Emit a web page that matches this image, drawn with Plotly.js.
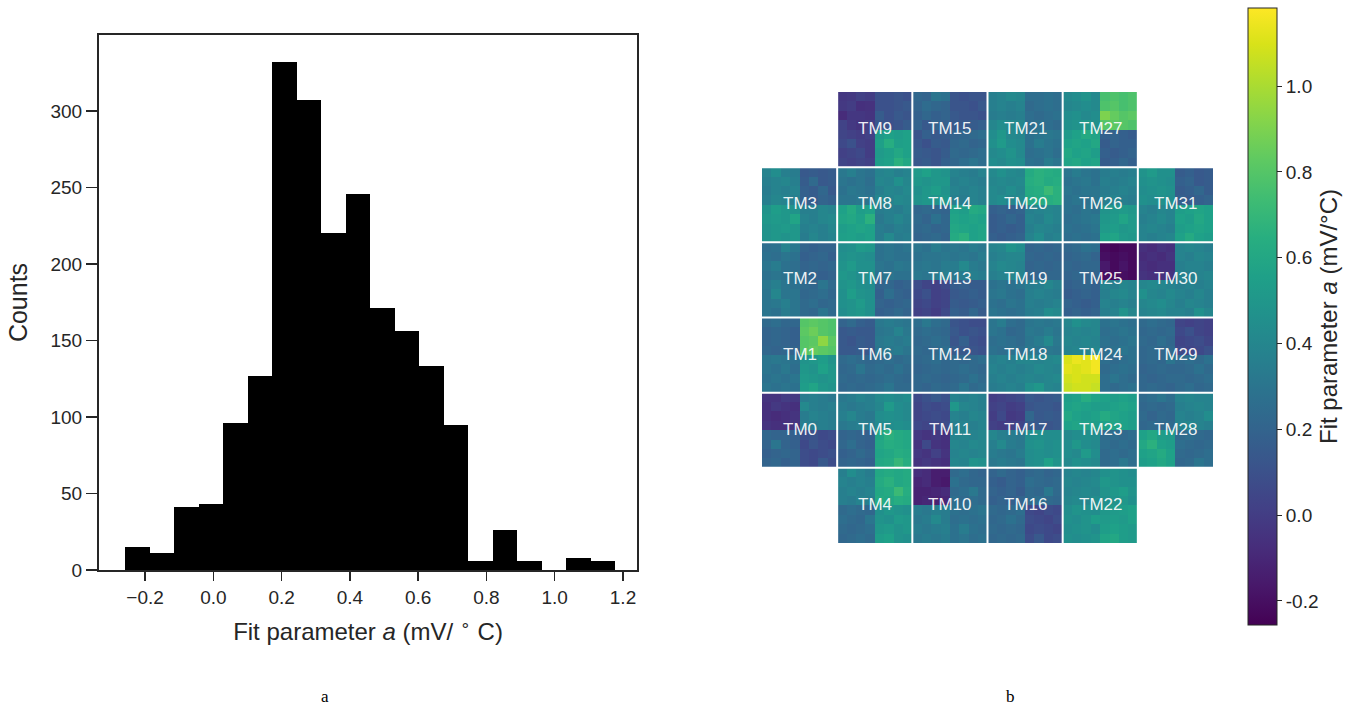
<!DOCTYPE html>
<html>
<head>
<meta charset="utf-8">
<script src="https://cdn.plot.ly/plotly-3.0.1.min.js"></script>
<style>
  html, body { margin: 0; padding: 0; background: #ffffff; }
  #chart { width: 1365px; height: 707px; }
</style>
</head>
<body>
<div id="chart"></div>
<script>
// ---- Panel a: histogram of the fit parameter a (mV/°C) ----
const histLo = -0.258;      // left edge of the first bin
const histHi = 1.178;       // right edge of the last bin
const counts = [15, 11, 41, 43, 96, 127, 332, 307, 220, 246, 171, 156, 133, 95, 6, 26, 6, 0, 8, 6];
const histTicks = [-0.2, 0.0, 0.2, 0.4, 0.6, 0.8, 1.0, 1.2];
const countTicks = [0, 50, 100, 150, 200, 250, 300];

// ---- Panel b: per-pixel fit parameter for each target module (8x8 pixels, rows top to bottom) ----
const TM0 = [
  [-0.04,-0.04,0.00,-0.02, 0.34,0.36,0.34,0.32],
  [-0.06,-0.02,-0.04,-0.06, 0.42,0.36,0.34,0.36],
  [-0.06,-0.08,-0.06,-0.04, 0.34,0.38,0.36,0.34],
  [-0.04,-0.06,-0.06,-0.04, 0.36,0.34,0.36,0.34],
  [0.22,0.20,0.20,0.18, 0.08,0.10,0.06,0.08],
  [0.20,0.30,0.20,0.18, 0.06,0.12,0.08,0.06],
  [0.18,0.20,0.22,0.20, 0.08,0.06,0.08,0.10],
  [0.20,0.22,0.18,0.20, 0.08,0.06,0.14,0.08]];
const TM1 = [
  [0.24,0.26,0.22,0.22, 0.80,0.82,0.80,0.78],
  [0.20,0.22,0.20,0.18, 0.82,0.86,0.80,0.78],
  [0.20,0.22,0.20,0.18, 0.80,0.82,0.94,0.82],
  [0.22,0.20,0.22,0.20, 0.80,0.84,0.82,0.80],
  [0.30,0.32,0.30,0.28, 0.48,0.50,0.54,0.48],
  [0.30,0.28,0.32,0.26, 0.50,0.48,0.56,0.50],
  [0.28,0.30,0.28,0.30, 0.52,0.50,0.48,0.50],
  [0.30,0.28,0.30,0.28, 0.54,0.58,0.50,0.48]];
const TM2 = [
  [0.26,0.28,0.38,0.32, 0.20,0.18,0.20,0.20],
  [0.28,0.26,0.30,0.28, 0.18,0.20,0.22,0.18],
  [0.30,0.34,0.28,0.26, 0.20,0.22,0.20,0.22],
  [0.28,0.30,0.28,0.30, 0.22,0.20,0.18,0.20],
  [0.32,0.36,0.30,0.28, 0.24,0.22,0.30,0.24],
  [0.30,0.40,0.30,0.30, 0.22,0.24,0.26,0.22],
  [0.30,0.32,0.36,0.30, 0.24,0.26,0.22,0.24],
  [0.30,0.28,0.34,0.30, 0.24,0.22,0.30,0.24]];
const TM3 = [
  [0.38,0.44,0.36,0.34, 0.14,0.16,0.14,0.16],
  [0.36,0.38,0.40,0.36, 0.16,0.24,0.14,0.16],
  [0.34,0.38,0.36,0.38, 0.18,0.16,0.22,0.14],
  [0.36,0.40,0.38,0.36, 0.18,0.16,0.20,0.18],
  [0.48,0.54,0.50,0.48, 0.36,0.36,0.40,0.38],
  [0.50,0.52,0.50,0.58, 0.38,0.36,0.40,0.42],
  [0.48,0.50,0.52,0.50, 0.36,0.38,0.36,0.40],
  [0.48,0.50,0.48,0.50, 0.34,0.40,0.36,0.38]];
const TM4 = [
  [0.36,0.44,0.38,0.34, 0.60,0.62,0.60,0.62],
  [0.38,0.36,0.38,0.36, 0.62,0.66,0.60,0.62],
  [0.36,0.38,0.36,0.38, 0.60,0.62,0.72,0.64],
  [0.36,0.34,0.38,0.36, 0.62,0.60,0.64,0.62],
  [0.24,0.26,0.24,0.22, 0.46,0.50,0.48,0.46],
  [0.26,0.24,0.22,0.30, 0.48,0.46,0.52,0.50],
  [0.24,0.22,0.24,0.26, 0.50,0.52,0.48,0.50],
  [0.22,0.24,0.26,0.24, 0.54,0.56,0.48,0.46]];
const TM5 = [
  [0.32,0.34,0.38,0.36, 0.42,0.44,0.42,0.44],
  [0.34,0.32,0.34,0.36, 0.40,0.52,0.44,0.42],
  [0.36,0.40,0.34,0.32, 0.44,0.46,0.44,0.42],
  [0.32,0.34,0.36,0.34, 0.42,0.44,0.46,0.44],
  [0.20,0.22,0.20,0.18, 0.58,0.66,0.62,0.60],
  [0.22,0.26,0.20,0.18, 0.60,0.64,0.62,0.60],
  [0.18,0.20,0.24,0.20, 0.58,0.60,0.64,0.62],
  [0.20,0.22,0.20,0.18, 0.60,0.62,0.70,0.64]];
const TM6 = [
  [0.20,0.24,0.18,0.16, 0.32,0.34,0.32,0.30],
  [0.14,0.16,0.14,0.14, 0.30,0.32,0.38,0.32],
  [0.14,0.12,0.16,0.14, 0.32,0.34,0.32,0.34],
  [0.14,0.14,0.16,0.14, 0.30,0.32,0.34,0.30],
  [0.24,0.26,0.24,0.22, 0.24,0.26,0.24,0.26],
  [0.22,0.24,0.30,0.24, 0.26,0.24,0.28,0.24],
  [0.24,0.22,0.24,0.22, 0.24,0.26,0.24,0.22],
  [0.22,0.24,0.22,0.24, 0.26,0.30,0.24,0.24]];
const TM7 = [
  [0.44,0.46,0.52,0.50, 0.28,0.30,0.28,0.30],
  [0.46,0.48,0.46,0.44, 0.28,0.30,0.28,0.28],
  [0.48,0.52,0.46,0.46, 0.30,0.28,0.32,0.30],
  [0.50,0.48,0.44,0.46, 0.28,0.30,0.28,0.28],
  [0.48,0.50,0.46,0.44, 0.20,0.22,0.18,0.20],
  [0.46,0.54,0.48,0.46, 0.18,0.26,0.20,0.18],
  [0.46,0.48,0.52,0.46, 0.20,0.18,0.20,0.22],
  [0.44,0.48,0.50,0.46, 0.18,0.20,0.24,0.20]];
const TM8 = [
  [0.32,0.36,0.30,0.28, 0.38,0.40,0.36,0.38],
  [0.30,0.28,0.30,0.26, 0.40,0.38,0.46,0.40],
  [0.28,0.32,0.30,0.28, 0.36,0.40,0.38,0.42],
  [0.30,0.30,0.32,0.30, 0.40,0.38,0.42,0.40],
  [0.56,0.62,0.54,0.56, 0.34,0.36,0.34,0.38],
  [0.58,0.60,0.56,0.66, 0.32,0.36,0.40,0.36],
  [0.54,0.56,0.58,0.56, 0.34,0.32,0.36,0.34],
  [0.55,0.56,0.54,0.56, 0.34,0.42,0.34,0.36]];
const TM9 = [
  [-0.03,-0.02,0.02,0.00, 0.10,0.10,0.12,0.10],
  [-0.02,0.00,-0.06,-0.05, 0.10,0.10,0.12,0.14],
  [-0.08,-0.03,-0.03,-0.04, 0.16,0.10,0.14,0.12],
  [0.03,-0.02,-0.04,0.00, 0.12,0.10,0.12,0.16],
  [0.04,0.02,0.00,0.02, 0.52,0.56,0.54,0.56],
  [0.06,0.10,0.02,0.00, 0.55,0.64,0.55,0.56],
  [0.02,0.04,0.06,0.00, 0.52,0.55,0.60,0.56],
  [0.04,0.02,0.04,0.02, 0.54,0.56,0.66,0.60]];
const TM10 = [
  [-0.06,-0.08,-0.14,-0.14, 0.24,0.26,0.22,0.20],
  [-0.10,-0.08,-0.14,-0.16, 0.28,0.24,0.22,0.22],
  [-0.12,-0.12,-0.10,-0.08, 0.24,0.26,0.32,0.24],
  [-0.12,-0.10,-0.12,-0.10, 0.26,0.24,0.26,0.24],
  [0.34,0.32,0.36,0.34, 0.28,0.26,0.28,0.30],
  [0.32,0.34,0.42,0.34, 0.26,0.28,0.26,0.28],
  [0.34,0.32,0.34,0.36, 0.28,0.34,0.28,0.26],
  [0.32,0.34,0.32,0.34, 0.28,0.30,0.26,0.28]];
const TM11 = [
  [0.06,0.10,0.14,0.10, 0.38,0.36,0.38,0.36],
  [0.04,0.08,0.06,0.08, 0.50,0.40,0.38,0.36],
  [0.04,0.06,0.08,0.06, 0.38,0.36,0.40,0.38],
  [0.06,0.04,0.06,0.08, 0.36,0.38,0.36,0.38],
  [-0.02,-0.04,-0.02,-0.06, 0.38,0.40,0.38,0.40],
  [-0.04,0.06,-0.04,-0.06, 0.40,0.38,0.42,0.40],
  [-0.02,-0.04,0.02,-0.04, 0.38,0.40,0.38,0.40],
  [-0.04,-0.02,-0.04,-0.06, 0.40,0.38,0.48,0.46]];
const TM12 = [
  [0.26,0.32,0.26,0.24, 0.12,0.10,0.08,0.08],
  [0.24,0.26,0.24,0.22, 0.14,0.10,0.12,0.10],
  [0.22,0.24,0.26,0.24, 0.12,0.18,0.10,0.08],
  [0.24,0.22,0.24,0.26, 0.16,0.14,0.12,0.10],
  [0.22,0.24,0.26,0.22, 0.24,0.22,0.24,0.26],
  [0.20,0.22,0.24,0.22, 0.24,0.26,0.24,0.22],
  [0.22,0.24,0.22,0.20, 0.22,0.24,0.28,0.24],
  [0.22,0.20,0.24,0.22, 0.24,0.30,0.24,0.26]];
const TM13 = [
  [0.30,0.28,0.34,0.30, 0.32,0.30,0.34,0.32],
  [0.28,0.30,0.30,0.32, 0.30,0.32,0.30,0.34],
  [0.30,0.32,0.30,0.34, 0.34,0.42,0.34,0.32],
  [0.32,0.30,0.34,0.36, 0.32,0.34,0.36,0.34],
  [0.08,0.04,0.02,0.06, 0.16,0.18,0.16,0.16],
  [0.06,0.10,0.02,0.04, 0.14,0.16,0.18,0.16],
  [0.04,0.06,0.02,0.04, 0.16,0.14,0.16,0.18],
  [0.02,0.04,0.00,0.06, 0.18,0.16,0.22,0.16]];
const TM14 = [
  [0.52,0.56,0.50,0.48, 0.38,0.36,0.34,0.38],
  [0.50,0.48,0.50,0.50, 0.36,0.38,0.36,0.34],
  [0.46,0.50,0.54,0.48, 0.38,0.36,0.38,0.36],
  [0.48,0.50,0.48,0.50, 0.36,0.34,0.38,0.36],
  [0.22,0.24,0.22,0.20, 0.56,0.54,0.62,0.60],
  [0.24,0.20,0.28,0.22, 0.58,0.56,0.58,0.56],
  [0.22,0.24,0.20,0.22, 0.60,0.58,0.56,0.58],
  [0.20,0.22,0.24,0.20, 0.62,0.66,0.56,0.58]];
const TM15 = [
  [0.22,0.20,0.30,0.28, 0.12,0.10,0.12,0.12],
  [0.20,0.25,0.22,0.20, 0.12,0.12,0.10,0.14],
  [0.18,0.22,0.18,0.20, 0.14,0.12,0.12,0.10],
  [0.20,0.14,0.20,0.18, 0.14,0.14,0.16,0.18],
  [0.12,0.18,0.14,0.16, 0.20,0.22,0.24,0.26],
  [0.14,0.10,0.16,0.14, 0.22,0.24,0.20,0.22],
  [0.16,0.14,0.12,0.16, 0.24,0.22,0.24,0.26],
  [0.14,0.16,0.12,0.18, 0.22,0.26,0.30,0.26]];
const TM16 = [
  [0.20,0.24,0.20,0.18, 0.22,0.24,0.20,0.22],
  [0.18,0.16,0.20,0.18, 0.26,0.24,0.22,0.24],
  [0.20,0.18,0.20,0.16, 0.24,0.22,0.32,0.24],
  [0.18,0.20,0.18,0.20, 0.24,0.26,0.24,0.22],
  [0.24,0.22,0.24,0.26, 0.06,0.04,0.08,0.06],
  [0.22,0.24,0.28,0.24, 0.08,0.06,0.04,0.08],
  [0.24,0.22,0.24,0.22, 0.06,0.08,0.06,0.04],
  [0.22,0.24,0.22,0.24, 0.08,0.14,0.06,0.08]];
const TM17 = [
  [0.00,0.02,0.04,0.06, 0.14,0.12,0.14,0.16],
  [0.02,0.04,0.00,0.02, 0.12,0.14,0.14,0.12],
  [0.00,0.06,-0.02,0.00, 0.22,0.14,0.16,0.14],
  [0.02,0.00,0.02,0.04, 0.16,0.14,0.12,0.14],
  [0.40,0.36,0.34,0.32, 0.44,0.46,0.44,0.44],
  [0.36,0.42,0.34,0.32, 0.46,0.48,0.44,0.46],
  [0.34,0.32,0.30,0.34, 0.44,0.46,0.44,0.46],
  [0.32,0.34,0.32,0.30, 0.44,0.46,0.56,0.48]];
const TM18 = [
  [0.30,0.34,0.26,0.24, 0.30,0.32,0.30,0.32],
  [0.30,0.28,0.22,0.24, 0.32,0.30,0.34,0.30],
  [0.26,0.28,0.26,0.24, 0.30,0.34,0.42,0.32],
  [0.28,0.26,0.28,0.26, 0.32,0.30,0.32,0.30],
  [0.36,0.38,0.36,0.40, 0.40,0.38,0.40,0.42],
  [0.38,0.36,0.38,0.36, 0.38,0.42,0.40,0.38],
  [0.36,0.38,0.36,0.38, 0.40,0.38,0.40,0.42],
  [0.34,0.36,0.38,0.36, 0.46,0.50,0.40,0.38]];
const TM19 = [
  [0.38,0.40,0.48,0.44, 0.20,0.22,0.20,0.22],
  [0.36,0.38,0.40,0.40, 0.22,0.20,0.22,0.20],
  [0.38,0.42,0.40,0.38, 0.20,0.22,0.20,0.22],
  [0.36,0.38,0.40,0.38, 0.22,0.20,0.22,0.22],
  [0.28,0.30,0.28,0.30, 0.34,0.36,0.40,0.36],
  [0.30,0.32,0.28,0.26, 0.36,0.38,0.36,0.34],
  [0.28,0.26,0.30,0.28, 0.36,0.34,0.36,0.38],
  [0.30,0.28,0.26,0.28, 0.34,0.36,0.44,0.42]];
const TM20 = [
  [0.42,0.46,0.42,0.40, 0.62,0.66,0.64,0.62],
  [0.40,0.42,0.40,0.42, 0.64,0.66,0.62,0.64],
  [0.42,0.40,0.44,0.40, 0.62,0.64,0.72,0.66],
  [0.42,0.44,0.40,0.42, 0.60,0.62,0.64,0.66],
  [0.18,0.20,0.18,0.20, 0.36,0.38,0.40,0.38],
  [0.16,0.18,0.22,0.18, 0.38,0.36,0.42,0.38],
  [0.16,0.18,0.16,0.18, 0.36,0.40,0.38,0.36],
  [0.18,0.16,0.18,0.20, 0.38,0.44,0.36,0.38]];
const TM21 = [
  [0.36,0.38,0.42,0.40, 0.26,0.26,0.28,0.26],
  [0.36,0.38,0.36,0.38, 0.24,0.26,0.28,0.26],
  [0.34,0.36,0.34,0.36, 0.26,0.24,0.26,0.28],
  [0.40,0.44,0.42,0.40, 0.26,0.28,0.26,0.24],
  [0.44,0.50,0.42,0.40, 0.28,0.30,0.32,0.30],
  [0.46,0.52,0.44,0.42, 0.28,0.34,0.30,0.28],
  [0.42,0.44,0.48,0.42, 0.26,0.28,0.30,0.26],
  [0.44,0.42,0.46,0.44, 0.28,0.26,0.34,0.30]];
const TM22 = [
  [0.38,0.40,0.38,0.40, 0.46,0.48,0.46,0.44],
  [0.40,0.38,0.40,0.42, 0.50,0.48,0.46,0.46],
  [0.38,0.40,0.42,0.40, 0.48,0.50,0.54,0.48],
  [0.40,0.42,0.40,0.44, 0.46,0.48,0.50,0.46],
  [0.44,0.48,0.46,0.44, 0.50,0.52,0.54,0.56],
  [0.46,0.44,0.48,0.54, 0.52,0.54,0.52,0.56],
  [0.44,0.46,0.48,0.44, 0.54,0.56,0.54,0.52],
  [0.46,0.44,0.46,0.48, 0.58,0.60,0.54,0.52]];
const TM23 = [
  [0.54,0.56,0.64,0.58, 0.56,0.54,0.56,0.54],
  [0.56,0.58,0.56,0.54, 0.54,0.56,0.58,0.56],
  [0.60,0.56,0.54,0.56, 0.62,0.58,0.56,0.54],
  [0.56,0.58,0.56,0.54, 0.56,0.58,0.56,0.54],
  [0.42,0.44,0.46,0.44, 0.24,0.26,0.24,0.26],
  [0.44,0.50,0.44,0.42, 0.26,0.24,0.26,0.24],
  [0.44,0.42,0.52,0.44, 0.24,0.26,0.24,0.26],
  [0.42,0.46,0.44,0.42, 0.24,0.26,0.32,0.26]];
const TM24 = [
  [0.40,0.46,0.42,0.40, 0.28,0.30,0.28,0.26],
  [0.38,0.40,0.38,0.40, 0.26,0.28,0.30,0.28],
  [0.40,0.38,0.40,0.38, 0.28,0.26,0.28,0.30],
  [0.38,0.40,0.38,0.40, 0.26,0.28,0.30,0.28],
  [1.10,1.14,1.12,1.16, 0.26,0.24,0.26,0.28],
  [1.12,1.10,1.12,1.16, 0.24,0.26,0.28,0.26],
  [1.08,1.10,1.08,1.08, 0.26,0.30,0.26,0.24],
  [1.06,1.08,1.08,1.06, 0.26,0.24,0.26,0.28]];
const TM25 = [
  [0.22,0.24,0.28,0.26, -0.22,-0.24,-0.22,-0.22],
  [0.20,0.22,0.24,0.20, -0.20,-0.22,-0.20,-0.22],
  [0.22,0.20,0.22,0.22, -0.16,-0.22,-0.18,-0.22],
  [0.20,0.22,0.20,0.20, -0.20,-0.22,-0.20,-0.22],
  [0.18,0.20,0.22,0.18, 0.38,0.36,0.40,0.38],
  [0.16,0.18,0.20,0.18, 0.36,0.40,0.42,0.38],
  [0.20,0.18,0.16,0.18, 0.38,0.36,0.38,0.36],
  [0.18,0.20,0.18,0.20, 0.36,0.38,0.48,0.40]];
const TM26 = [
  [0.30,0.34,0.30,0.28, 0.34,0.36,0.34,0.36],
  [0.28,0.30,0.32,0.28, 0.36,0.34,0.36,0.38],
  [0.30,0.28,0.30,0.30, 0.34,0.36,0.38,0.36],
  [0.28,0.30,0.28,0.30, 0.36,0.38,0.36,0.34],
  [0.28,0.26,0.30,0.28, 0.48,0.50,0.52,0.50],
  [0.26,0.28,0.30,0.32, 0.50,0.52,0.58,0.52],
  [0.28,0.26,0.28,0.30, 0.52,0.54,0.50,0.52],
  [0.26,0.28,0.26,0.28, 0.56,0.58,0.52,0.50]];
const TM27 = [
  [0.42,0.44,0.48,0.42, 0.76,0.78,0.76,0.78],
  [0.40,0.42,0.44,0.42, 0.78,0.80,0.76,0.78],
  [0.44,0.46,0.42,0.44, 0.90,0.84,0.80,0.82],
  [0.46,0.48,0.50,0.46, 0.80,0.82,0.80,0.78],
  [0.52,0.56,0.62,0.58, 0.18,0.20,0.18,0.16],
  [0.56,0.58,0.56,0.60, 0.16,0.20,0.18,0.18],
  [0.60,0.56,0.58,0.54, 0.18,0.16,0.18,0.20],
  [0.58,0.60,0.56,0.58, 0.16,0.18,0.22,0.18]];
const TM28 = [
  [0.24,0.26,0.30,0.26, 0.38,0.40,0.38,0.38],
  [0.22,0.24,0.22,0.24, 0.36,0.38,0.40,0.38],
  [0.24,0.20,0.24,0.22, 0.38,0.36,0.38,0.44],
  [0.22,0.24,0.22,0.24, 0.38,0.40,0.38,0.36],
  [0.56,0.60,0.54,0.52, 0.24,0.26,0.24,0.22],
  [0.60,0.66,0.56,0.54, 0.26,0.24,0.22,0.24],
  [0.56,0.58,0.62,0.56, 0.24,0.22,0.24,0.26],
  [0.54,0.56,0.60,0.56, 0.22,0.24,0.30,0.26]];
const TM29 = [
  [0.24,0.26,0.24,0.22, 0.04,0.02,0.04,0.02],
  [0.22,0.24,0.22,0.24, 0.06,0.10,0.04,0.02],
  [0.24,0.22,0.26,0.22, 0.04,0.06,0.08,0.04],
  [0.22,0.24,0.22,0.24, 0.06,0.04,0.06,0.10],
  [0.22,0.24,0.22,0.30, 0.24,0.26,0.24,0.28],
  [0.20,0.22,0.24,0.22, 0.22,0.24,0.28,0.24],
  [0.22,0.20,0.22,0.24, 0.24,0.22,0.24,0.26],
  [0.22,0.24,0.22,0.20, 0.24,0.26,0.22,0.24]];
const TM30 = [
  [-0.06,-0.08,-0.04,-0.06, 0.38,0.40,0.38,0.36],
  [-0.08,-0.06,-0.08,-0.04, 0.38,0.36,0.40,0.38],
  [-0.06,-0.08,-0.06,-0.06, 0.36,0.38,0.38,0.36],
  [-0.04,-0.06,-0.06,-0.04, 0.38,0.36,0.38,0.40],
  [0.40,0.42,0.40,0.38, 0.36,0.38,0.36,0.38],
  [0.46,0.40,0.38,0.42, 0.38,0.36,0.40,0.36],
  [0.40,0.42,0.44,0.40, 0.36,0.40,0.38,0.36],
  [0.38,0.40,0.42,0.38, 0.38,0.36,0.46,0.40]];
const TM31 = [
  [0.48,0.52,0.46,0.46, 0.16,0.18,0.14,0.16],
  [0.46,0.48,0.46,0.44, 0.18,0.20,0.14,0.16],
  [0.44,0.46,0.48,0.46, 0.16,0.18,0.22,0.16],
  [0.46,0.44,0.46,0.44, 0.18,0.16,0.18,0.20],
  [0.38,0.36,0.40,0.38, 0.54,0.56,0.58,0.56],
  [0.36,0.38,0.42,0.38, 0.56,0.54,0.60,0.56],
  [0.38,0.40,0.38,0.36, 0.54,0.56,0.58,0.56],
  [0.38,0.36,0.38,0.40, 0.56,0.62,0.56,0.54]];

// Module numbers as placed on the camera face (rows top to bottom, null = no module)
const moduleLayout = [
  [null, 9, 15, 21, 27, null],
  [3, 8, 14, 20, 26, 31],
  [2, 7, 13, 19, 25, 30],
  [1, 6, 12, 18, 24, 29],
  [0, 5, 11, 17, 23, 28],
  [null, 4, 10, 16, 22, null]];
const modules = [TM0, TM1, TM2, TM3, TM4, TM5, TM6, TM7, TM8, TM9, TM10, TM11, TM12, TM13, TM14, TM15,
                 TM16, TM17, TM18, TM19, TM20, TM21, TM22, TM23, TM24, TM25, TM26, TM27, TM28, TM29, TM30, TM31];
const cbTicks = [-0.2, 0.0, 0.2, 0.4, 0.6, 0.8, 1.0];

// ---- build the histogram bars ----
const nBins = counts.length;
const binW = (histHi - histLo) / nBins;
const binCenters = counts.map((_, i) => histLo + binW * (i + 0.5));

// ---- assemble the 48x48 camera image ----
const N = 8;
const side = moduleLayout.length * N;
const z = [];
for (let r = 0; r < side; r++) z.push(new Array(side).fill(null));
const labels = [];
moduleLayout.forEach((row, mr) => {
  row.forEach((tm, mc) => {
    if (tm === null) return;
    const px = modules[tm];
    for (let i = 0; i < N; i++)
      for (let j = 0; j < N; j++)
        z[mr * N + i][mc * N + j] = px[i][j];
    labels.push({
      xref: 'x2', yref: 'y2', x: mc * N + 3.5, y: mr * N + 3.4,
      xanchor: 'center', yanchor: 'middle',
      text: 'TM' + tm, showarrow: false,
      font: { family: 'Liberation Sans, Arial, sans-serif', size: 17, color: 'rgba(255,255,255,0.93)' }
    });
  });
});

// white seams between modules
const seams = [];
for (let k = 1; k < moduleLayout.length; k++) {
  const p = k * N - 0.5;
  seams.push({ type: 'line', xref: 'x2', yref: 'y2', x0: p, x1: p, y0: -0.5, y1: side - 0.5,
               line: { color: '#ffffff', width: 2 } });
  seams.push({ type: 'line', xref: 'x2', yref: 'y2', x0: -0.5, x1: side - 0.5, y0: p, y1: p,
               line: { color: '#ffffff', width: 2 } });
}

const ink = '#262626';
const font = 'Liberation Sans, Arial, Helvetica, sans-serif';

const traces = [
  {
    type: 'bar', x: binCenters, y: counts, width: binW,
    marker: { color: '#000000', line: { width: 0 } },
    xaxis: 'x', yaxis: 'y', hoverinfo: 'x+y', showlegend: false
  },
  {
    type: 'heatmap', z: z, xaxis: 'x2', yaxis: 'y2',
    colorscale: 'Viridis', zmin: -0.256, zmax: 1.182,
    hoverongaps: false, showscale: true,
    colorbar: {
      x: 1248 / 1365, xanchor: 'left', xref: 'paper', xpad: 0, ypad: 0,
      y: (707 - 316.5) / 707, yanchor: 'middle',
      len: 617, lenmode: 'pixels', thickness: 29, thicknessmode: 'pixels',
      outlinewidth: 1, outlinecolor: ink,
      ticks: 'outside', ticklen: 5, tickwidth: 1, tickcolor: ink,
      tickvals: cbTicks, ticktext: cbTicks.map(v => v.toFixed(1)),
      tickfont: { family: font, size: 19, color: ink },
      title: { text: 'Fit parameter <i>a</i> (mV/°C)', side: 'right',
               font: { family: font, size: 24, color: ink } }
    }
  }
];

const layout = {
  width: 1365, height: 707,
  margin: { l: 0, r: 0, t: 0, b: 0 },
  paper_bgcolor: '#ffffff', plot_bgcolor: '#ffffff',
  showlegend: false,
  bargap: 0,
  xaxis: {
    domain: [99 / 1365, 637 / 1365], range: [-0.335, 1.241],
    tickvals: histTicks, ticktext: histTicks.map(v => (v < 0 ? '\u2212' : '') + Math.abs(v).toFixed(1)),
    ticks: 'outside', ticklen: 9, tickwidth: 1.5, tickcolor: ink,
    tickfont: { family: font, size: 19, color: ink },
    showline: true, linewidth: 2, linecolor: ink, mirror: true,
    showgrid: false, zeroline: false,
    title: { text: 'Fit parameter <i>a</i> (mV/ <sup>∘</sup> C)', standoff: 16,
             font: { family: font, size: 24, color: ink } }
  },
  yaxis: {
    domain: [(707 - 570) / 707, (707 - 35) / 707], range: [0, 349.6],
    tickvals: countTicks,
    ticks: 'outside', ticklen: 11, tickwidth: 1.5, tickcolor: ink,
    tickfont: { family: font, size: 19, color: ink },
    showline: true, linewidth: 2, linecolor: ink, mirror: true,
    showgrid: false, zeroline: false,
    title: { text: 'Counts', standoff: 16, font: { family: font, size: 25, color: ink } }
  },
  xaxis2: {
    domain: [762 / 1365, 1213 / 1365], range: [-0.5, side - 0.5],
    visible: false, showgrid: false, zeroline: false, anchor: 'y2'
  },
  yaxis2: {
    domain: [(707 - 543) / 707, (707 - 92) / 707], range: [side - 0.5, -0.5],
    visible: false, showgrid: false, zeroline: false, anchor: 'x2'
  },
  shapes: seams,
  annotations: labels.concat([
    { xref: 'paper', yref: 'paper', x: 325 / 1365, y: (707 - 696) / 707, xanchor: 'center', yanchor: 'middle',
      text: 'a', showarrow: false,
      font: { family: 'Liberation Serif, Times New Roman, serif', size: 17, color: '#000000' } },
    { xref: 'paper', yref: 'paper', x: 1010 / 1365, y: (707 - 696) / 707, xanchor: 'center', yanchor: 'middle',
      text: 'b', showarrow: false,
      font: { family: 'Liberation Serif, Times New Roman, serif', size: 17, color: '#000000' } }
  ])
};

Plotly.newPlot('chart', traces, layout, { displayModeBar: false, staticPlot: true });
</script>
</body>
</html>
